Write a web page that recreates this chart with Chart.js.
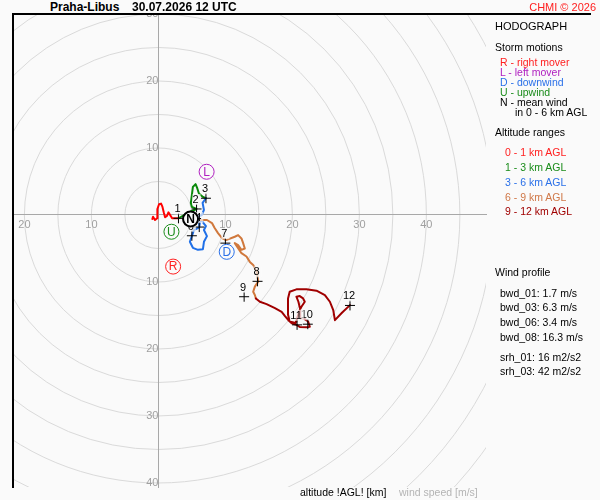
<!DOCTYPE html>
<html lang="en">
<head>
  <meta charset="UTF-8" />
  <title>Hodograph – Praha-Libus</title>
  <script src="https://cdn.jsdelivr.net/npm/chart.js"></script>
  <style>
    body { margin: 0; background: #fafafa; font-family: "Liberation Sans", Arial, sans-serif; }
    #wrap { position: relative; width: 600px; height: 500px; overflow: hidden; background: #fafafa; }
    #hodo { position: absolute; left: 0; top: 0; }
    .t { position: absolute; white-space: nowrap; font-size: 10.5px; line-height: 12px; color: #000; }
    .mask { position: absolute; background: #fafafa; }
  </style>
</head>
<body>
  <div id="wrap">
    <canvas id="hodo" width="600" height="500"></canvas>
    <!-- hide tick labels that spill out of the plot box -->
    <div class="mask" style="left:0; top:0; width:600px; height:13px;"></div>
    <div class="mask" style="left:0; top:488px; width:600px; height:12px;"></div>
    <div style="position:absolute; left:13px; top:13px; width:578px; border-top:2px solid #000;"></div>
    <div style="position:absolute; left:12px; top:13px; height:475px; border-left:2px solid #000;"></div>

    <div class="t" style="left:50px; top:1px; font-size:12px; font-weight:bold;">Praha-Libus</div>
    <div class="t" style="left:132px; top:1px; font-size:12px; font-weight:bold;">30.07.2026 12 UTC</div>
    <div class="t" style="right:4px; top:1px; font-size:11px; color:#ff2020;">CHMI © 2026</div>

    <div class="t" style="left:495px; top:20px; font-size:11px;">HODOGRAPH</div>
    <div class="t" style="left:495px; top:41px;">Storm motions</div>
    <div class="t" style="left:500px; top:56px; color:#ff2020;">R - right mover</div>
    <div class="t" style="left:500px; top:66px; color:#b020c0;">L - left mover</div>
    <div class="t" style="left:500px; top:76px; color:#2a70e8;">D - downwind</div>
    <div class="t" style="left:500px; top:86px; color:#1a8c1a;">U - upwind</div>
    <div class="t" style="left:500px; top:96px;">N - mean wind</div>
    <div class="t" style="left:515px; top:106px;">in 0 - 6 km AGL</div>

    <div class="t" style="left:495px; top:126px;">Altitude ranges</div>
    <div class="t" style="left:505px; top:146px; color:#ff2020;">0 - 1 km AGL</div>
    <div class="t" style="left:505px; top:161px; color:#1a8c1a;">1 - 3 km AGL</div>
    <div class="t" style="left:505px; top:176px; color:#2a70e8;">3 - 6 km AGL</div>
    <div class="t" style="left:505px; top:191px; color:#d07848;">6 - 9 km AGL</div>
    <div class="t" style="left:505px; top:205px; color:#a00000;">9 - 12 km AGL</div>

    <div class="t" style="left:495px; top:266px;">Wind profile</div>
    <div class="t" style="left:500px; top:287px;">bwd_01: 1.7 m/s</div>
    <div class="t" style="left:500px; top:301px;">bwd_03: 6.3 m/s</div>
    <div class="t" style="left:500px; top:316px;">bwd_06: 3.4 m/s</div>
    <div class="t" style="left:500px; top:331px;">bwd_08: 16.3 m/s</div>
    <div class="t" style="left:500px; top:351px;">srh_01: 16 m2/s2</div>
    <div class="t" style="left:500px; top:365px;">srh_03: 42 m2/s2</div>

    <div class="t" style="left:300px; top:486px;">altitude !AGL! [km]</div>
    <div class="t" style="left:399px; top:486px; color:#b4b4b4;">wind speed [m/s]</div>
  </div>

  <script>
    // wind components (m/s), u to the east, v to the north
    const redU = [-0.9, -0.8, -0.5, -0.2, -0.2, -0.1, 0.1, 0.4, 0.6, 0.8, 1.0, 1.3, 1.5, 1.75, 2.05, 3.0];
    const redV = [-0.6, -0.25, -0.75, -0.5, 0.1, 0.9, 1.6, 1.7, 1.25, 0.4, -0.35, -0.1, 0.4, 0.0, -0.5, -0.5];

    const greenU = [3.0, 4.1, 5.0, 5.7, 5.0, 4.85, 5.0, 5.15, 5.55, 5.8, 6.05, 6.65, 7.1];
    const greenV = [-0.5, 0.15, 0.6, 0.9, 1.2, 1.8, 3.0, 4.2, 4.6, 4.0, 3.2, 2.7, 2.5];

    const blueU = [7.1, 6.6, 6.8, 6.5, 5.75, 6.2, 6.1, 5.3, 5.0, 4.7, 5.15, 5.9, 6.65, 6.8, 7.25, 6.8, 7.1, 6.5, 6.2];
    const blueV = [2.5, 1.8, 0.75, 0.0, -0.3, -1.05, -1.85, -2.25, -3.15, -4.0, -4.9, -5.2, -5.1, -4.0, -3.15, -2.25, -1.65, -0.9, -0.75];

    const orangeU = [6.2, 7.25, 8.0, 8.4, 8.9, 9.5, 10.1, 11.4, 11.9, 12.4, 12.65, 12.9, 12.4, 11.9, 11.4, 12.4, 13.15, 13.65, 14.15, 14.7, 14.9, 14.4, 14.15, 14.4, 14.55];
    const orangeV = [-0.75, -0.75, -1.2, -1.95, -2.7, -3.45, -3.75, -3.25, -3.0, -3.5, -4.2, -5.0, -5.2, -4.5, -4.2, -5.7, -6.2, -7.0, -7.45, -8.5, -9.95, -10.7, -11.45, -11.95, -12.45];

    const darkU = [14.55, 15.15, 16.15, 17.4, 18.4, 18.9, 19.4, 19.9, 20.6, 21.1, 22.1, 22.6, 22.35, 21.85, 21.2, 21.2, 20.9, 20.6, 21.1, 21.6, 21.85, 21.35, 21.1, 20.5, 19.6, 19.35, 19.35, 19.35, 19.6, 20.6, 22.1, 23.6, 24.85, 25.6, 26.1, 26.35, 27.4, 28.6];
    const darkV = [-12.45, -12.95, -13.3, -13.9, -14.45, -15.1, -15.7, -16.15, -16.4, -16.7, -16.75, -16.7, -15.9, -15.55, -15.4, -14.2, -12.95, -12.2, -12.1, -12.45, -12.95, -13.7, -14.2, -16.1, -15.9, -14.9, -13.7, -12.45, -11.45, -11.1, -11.1, -11.3, -11.95, -12.95, -14.2, -15.7, -14.6, -13.45];

    // altitude marks (km AGL)
    const altLabels = ["1", "2", "3", "4", "6", "7", "8", "9", "10", "11", "12"];
    const altU = [3.0, 5.7, 7.1, 6.1, 5.0, 10.0, 14.8, 12.8, 22.3, 20.7, 28.6];
    const altV = [-0.5, 0.9, 2.5, -1.8, -3.1, -4.2, -9.9, -12.2, -16.3, -16.4, -13.5];

    // storm motions
    const stormLetters = ["R", "L", "D", "U", "N"];
    const stormU = [2.2, 7.2, 10.2, 1.95, 4.8];
    const stormV = [-7.7, 6.45, -5.5, -2.5, -0.6];
    const stormColors = ["#ff2020", "#b020c0", "#2a70e8", "#1a8c1a", "#000000"];

    // axis ticks (m/s) and speed rings
    const xTicks = [-20, -10, 0, 10, 20, 30, 40];
    const yTicks = [-40, -30, -20, -10, 0, 10, 20, 30];
    const ringStep = 5;

    const pts = (us, vs) => us.map((u, i) => ({ x: u, y: vs[i] }));

    function trace(us, vs, color) {
      return {
        type: "line", data: pts(us, vs), borderColor: color, borderWidth: 2,
        pointRadius: 0, tension: 0, fill: false, borderJoinStyle: "round", borderCapStyle: "round"
      };
    }

    const rings = {
      id: "rings",
      beforeDraw(chart) {
        const { ctx, chartArea: a, scales: { x, y } } = chart;
        const cx = x.getPixelForValue(0), cy = y.getPixelForValue(0);
        ctx.save();
        ctx.fillStyle = "#fafafa";
        ctx.fillRect(0, 0, chart.width, chart.height);
        ctx.beginPath();
        ctx.rect(a.left, a.top, a.right - a.left, a.bottom - a.top);
        ctx.clip();
        ctx.strokeStyle = "#dadada";
        ctx.lineWidth = 1;
        for (let r = ringStep; r <= 70; r += ringStep) {
          ctx.beginPath();
          ctx.arc(cx, cy, x.getPixelForValue(r) - cx, 0, Math.PI * 2);
          ctx.stroke();
        }
        ctx.restore();
      },
      afterDatasetDraw(chart, args) {
        const ctx = chart.ctx;
        const ds = chart.data.datasets[args.index];
        if (!ds.tags) return;
        ctx.save();
        ctx.textAlign = "center";
        ctx.textBaseline = "middle";
        args.meta.data.forEach((pt, i) => {
          if (ds.tagKind === "alt") {
            ctx.font = "11px 'Liberation Sans', Arial, sans-serif";
            const w = ctx.measureText(ds.tags[i]).width;
            ctx.fillStyle = "rgba(250,250,250,0.65)";
            ctx.fillRect(pt.x - 1 - w / 2, pt.y - 15, w + 2, 11);
            ctx.fillStyle = "#000";
            ctx.fillText(ds.tags[i], pt.x - 1, pt.y - 9);
          } else {
            const bold = ds.tags[i] === "N";
            ctx.font = (bold ? "bold 12px" : "12px") + " 'Liberation Sans', Arial, sans-serif";
            ctx.fillStyle = stormColors[i];
            ctx.fillText(ds.tags[i], pt.x, pt.y + 0.5);
          }
        });
        ctx.restore();
      }
    };

    const absTick = v => v === 0 ? "" : String(Math.abs(v));
    const tickFont = { size: 11, family: "'Liberation Sans', Arial, sans-serif" };

    new Chart(document.getElementById("hodo"), {
      type: "scatter",
      data: {
        datasets: [
          {
            data: pts(stormU, stormV), tags: stormLetters, tagKind: "storm",
            pointStyle: "circle", pointRadius: 7.5,
            pointBorderColor: stormColors, pointBackgroundColor: "#fafafa",
            pointBorderWidth: [1, 1, 1, 1, 2]
          },
          {
            data: pts(altU, altV), tags: altLabels, tagKind: "alt",
            pointStyle: "cross", pointRadius: 5, pointBorderColor: "#000", pointBorderWidth: 1
          },
          trace(darkU, darkV, "#a00000"),
          trace(orangeU, orangeV, "#d0783c"),
          trace(blueU, blueV, "#2070e8"),
          trace(greenU, greenV, "#0a8a0a"),
          trace(redU, redV, "#ff0000")
        ]
      },
      options: {
        responsive: false,
        animation: false,
        events: [],
        layout: { padding: { left: 13, top: 14, right: 114, bottom: 13 } },
        plugins: { legend: { display: false }, tooltip: { enabled: false } },
        scales: {
          x: {
            type: "linear", min: -21.7, max: 48.9, position: { y: 0 },
            afterBuildTicks: s => { s.ticks = xTicks.map(v => ({ value: v })); },
            grid: { display: false, drawTicks: false },
            border: { display: true, color: "#a8a8a8", width: 1 },
            ticks: { autoSkip: false, maxRotation: 0, padding: 3, color: "#a0a0a0", font: tickFont, callback: absTick }
          },
          y: {
            type: "linear", min: -40.6, max: 30, position: { x: 0 },
            afterBuildTicks: s => { s.ticks = yTicks.map(v => ({ value: v })); },
            grid: { display: false, drawTicks: false },
            border: { display: true, color: "#a8a8a8", width: 1 },
            ticks: { autoSkip: false, padding: 2, color: "#a0a0a0", font: tickFont, callback: absTick }
          }
        }
      },
      plugins: [rings]
    });
  </script>
</body>
</html>
